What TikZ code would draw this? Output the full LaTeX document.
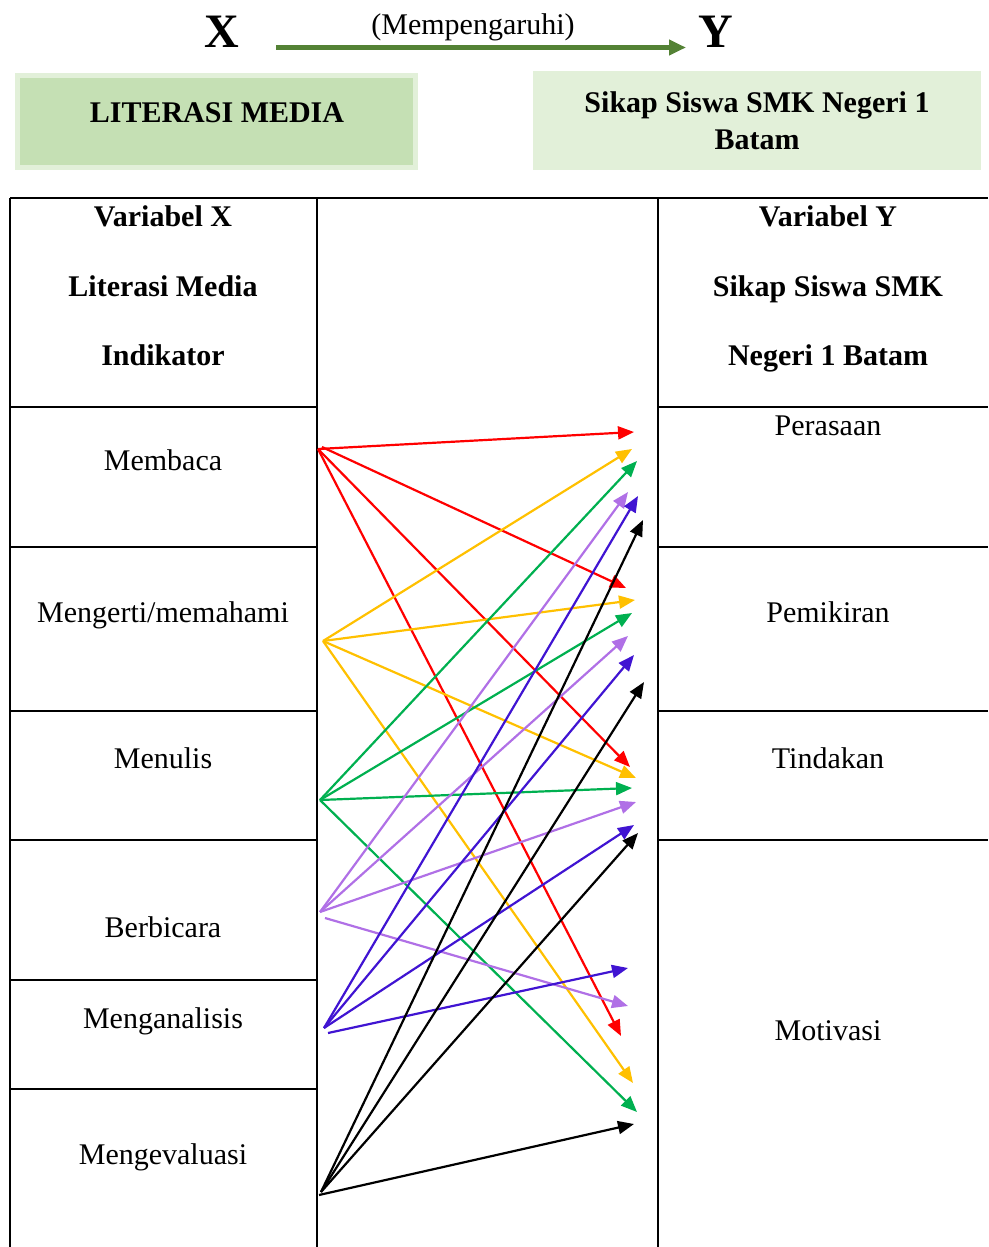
\documentclass[tikz,border=0pt]{standalone}
\usepackage{fontspec}
\setmainfont{Liberation Serif}
\usetikzlibrary{arrows.meta}
\definecolor{hdrgreen}{HTML}{548235}
\definecolor{boxgreen}{HTML}{C5E0B4}
\definecolor{boxlight}{HTML}{E2F0D9}
\definecolor{ayellow}{HTML}{FFC000}
\definecolor{agreen}{HTML}{00B050}
\definecolor{alilac}{HTML}{B070E6}
\definecolor{ablue}{HTML}{4014D2}
\begin{document}
\begin{tikzpicture}[x=1pt, y=-1pt, every node/.style={font=\fontsize{30}{37}\selectfont, anchor=base, inner sep=0pt, align=center},
    link/.style={-{Triangle[length=16pt,width=13pt]}, line width=2.2pt},
    grid/.style={line width=1.5pt}]
    \useasboundingbox (0,0) rectangle (988,1247);
    % header
    \node[font=\fontsize{48}{50}\selectfont\bfseries] (xv) at (222,48) {X};
    \node[font=\fontsize{48}{50}\selectfont\bfseries] (yv) at (716,48) {Y};
    \node (pengaruh) at (473,35) {(Mempengaruhi)};
    \coordinate (ha) at (276,47.5);
    \coordinate (hb) at (686,47.5);
    \draw[-{Triangle[length=17pt,width=15pt]}, line width=5pt, hdrgreen] (ha) -- (hb);
    \draw[fill=boxgreen, draw=boxlight, line width=5pt] (17.5,75.5) rectangle (415.5,167.5);
    \fill[boxlight] (533,71) rectangle (981,170);
    \node[font=\fontsize{30}{37}\selectfont\bfseries] (lit) at (217,122) {LITERASI MEDIA};
    \node[font=\fontsize{30}{37}\selectfont\bfseries] (sik1) at (757,112) {Sikap Siswa SMK Negeri 1};
    \node[font=\fontsize{30}{37}\selectfont\bfseries] (sik2) at (757,149) {Batam};
    % table
    \draw[grid] (10,198) -- (988,198);
    \draw[grid] (10,198) -- (10,1247);
    \draw[grid] (317,198) -- (317,1247);
    \draw[grid] (658,198) -- (658,1247);
    \foreach \y in {407,547,711,840,980,1089}
        \draw[grid] (10,\y) -- (317,\y);
    \foreach \y in {407,547,711,840}
        \draw[grid] (658,\y) -- (988,\y);
    % column X
    \node[font=\fontsize{30}{37}\selectfont\bfseries] (vx1) at (163,226) {Variabel X};
    \node[font=\fontsize{30}{37}\selectfont\bfseries] (vx2) at (163,296) {Literasi Media};
    \node[font=\fontsize{30}{37}\selectfont\bfseries] (vx3) at (163,365) {Indikator};
    \node (membaca) at (163,470) {Membaca};
    \node (mengerti) at (163,622) {Mengerti/memahami};
    \node (menulis) at (163,768) {Menulis};
    \node (berbicara) at (163,937) {Berbicara};
    \node (menganalisis) at (163,1028) {Menganalisis};
    \node (mengevaluasi) at (163,1164) {Mengevaluasi};
    % column Y
    \node[font=\fontsize{30}{37}\selectfont\bfseries] (vy1) at (828,226) {Variabel Y};
    \node[font=\fontsize{30}{37}\selectfont\bfseries] (vy2) at (828,296) {Sikap Siswa SMK};
    \node[font=\fontsize{30}{37}\selectfont\bfseries] (vy3) at (828,365) {Negeri 1 Batam};
    \node (perasaan) at (828,435) {Perasaan};
    \node (pemikiran) at (828,622) {Pemikiran};
    \node (tindakan) at (828,768) {Tindakan};
    \node (motivasi) at (828,1040) {Motivasi};
    % arrows
    \coordinate (mbc) at (318,449);
    \coordinate (mbc2) at (322,447);
    \coordinate (mgr) at (323,641);
    \coordinate (mnl) at (320,800);
    \coordinate (bcr) at (320,912);
    \coordinate (bcr2) at (325,918);
    \coordinate (mna) at (324,1028);
    \coordinate (mna2) at (328,1033);
    \coordinate (mev) at (321,1192);
    \coordinate (mev2) at (319,1195);
    \foreach \n/\x/\y in {r1/634/432, r2/626/588, r3/630/767, r4/621/1036,
        y1/632/449, y2/635/600, y3/636/778, y4/633/1083,
        g1/637/461, g2/632/613, g3/632/788, g4/637/1112,
        p1/628/492, p2/628/636, p3/636/802, p4/628/1006,
        b1/638/496, b2/634/655, b3/634/825, b4/628/968,
        k1/643/520, k2/644/682, k3/638/833, k4/634/1124}
        \coordinate (\n) at (\x,\y);
    \foreach \s/\t in {mbc/r1,mbc2/r2,mbc/r3,mbc/r4} \draw[link, red] (\s) -- (\t);
    \foreach \t in {y1,y2,y3,y4} \draw[link, ayellow] (mgr) -- (\t);
    \foreach \t in {g1,g2,g3,g4} \draw[link, agreen] (mnl) -- (\t);
    \foreach \s/\t in {bcr/p1,bcr/p2,bcr/p3,bcr2/p4} \draw[link, alilac] (\s) -- (\t);
    \foreach \s/\t in {mna/b1,mna/b2,mna/b3,mna2/b4} \draw[link, ablue] (\s) -- (\t);
    \foreach \s/\t in {mev/k1,mev/k2,mev/k3,mev2/k4} \draw[link, black] (\s) -- (\t);
\end{tikzpicture}
\end{document}
